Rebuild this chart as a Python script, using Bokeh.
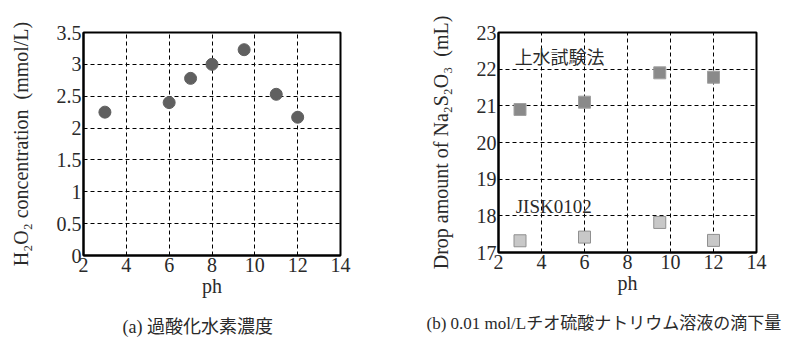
from bokeh.plotting import figure
from bokeh.layouts import row
from bokeh.models import Range1d, FixedTicker, Title, Label
from bokeh.embed import file_html
from bokeh.resources import INLINE

# Data
ph_a = [3, 6, 7, 8, 9.5, 11, 12]
h2o2 = [2.25, 2.4, 2.78, 3.0, 3.23, 2.53, 2.17]

ph_b = [3, 6, 9.5, 12]
josui = [20.9, 21.1, 21.9, 21.78]
jis = [17.32, 17.42, 17.82, 17.33]

x_ticks = [2, 4, 6, 8, 10, 12, 14]
y_ticks_a = [0, 0.5, 1, 1.5, 2, 2.5, 3, 3.5]
y_ticks_b = [17, 18, 19, 20, 21, 22, 23]

SERIF = "'Liberation Serif', 'DejaVu Serif', 'Noto Sans CJK JP'"
TXT = "#2a2a2a"


def style(p, yticks):
    p.xaxis.ticker = FixedTicker(ticks=x_ticks)
    p.yaxis.ticker = FixedTicker(ticks=yticks)
    for ax in (p.xaxis, p.yaxis):
        ax.major_label_text_font = SERIF
        ax.major_label_text_font_size = "20px"
        ax.major_label_text_color = TXT
        ax.axis_label_text_font = SERIF
        ax.axis_label_text_font_size = "20px"
        ax.axis_label_text_font_style = "normal"
        ax.axis_label_text_color = TXT
        ax.major_tick_in = 0
        ax.major_tick_out = 0
        ax.minor_tick_line_color = None
        ax.axis_line_color = "black"
        ax.axis_line_width = 2
        ax.major_label_standoff = 2
    p.xaxis.axis_label_standoff = 0
    p.yaxis.axis_label_standoff = 22
    p.xgrid.grid_line_color = "black"
    p.ygrid.grid_line_color = "black"
    p.xgrid.grid_line_dash = "4 3"
    p.ygrid.grid_line_dash = "4 3"
    p.xgrid.grid_line_width = 1
    p.ygrid.grid_line_width = 1
    p.outline_line_color = "black"
    p.outline_line_width = 2
    p.background_fill_color = "white"
    p.border_fill_color = "white"


# Plot (a)
pa = figure(width=395, height=338, frame_width=257, frame_height=223,
            x_range=Range1d(2, 14), y_range=Range1d(0, 3.5),
            output_backend="svg", toolbar_location=None,
            min_border_left=83, min_border_top=31, min_border_right=55,
            min_border_bottom=84)
style(pa, y_ticks_a)
pa.xaxis.axis_label = "ph"
pa.yaxis.axis_label = "H\u2082O\u2082 concentration\u2002(mmol/L)"
pa.scatter(ph_a, h2o2, marker="circle", size=12, fill_color="#606060",
           line_color="#606060")
cap_a = Title(text="(a)  過酸化水素濃度", align="left", offset=39, text_font=SERIF,
              text_font_size="18px", text_font_style="normal",
              text_color=TXT, standoff=30)
pa.add_layout(cap_a, "below")

# Plot (b)
pb = figure(width=403, height=338, frame_width=258, frame_height=220,
            x_range=Range1d(2, 14), y_range=Range1d(17, 23),
            output_backend="svg", toolbar_location=None,
            min_border_left=103, min_border_top=32, min_border_right=42,
            min_border_bottom=86)
style(pb, y_ticks_b)
pb.xaxis.axis_label = "ph"
pb.yaxis.axis_label = "Drop amount of Na\u2082S\u2082O\u2083\u2002(mL)"
pb.scatter(ph_b, josui, marker="square", size=12, fill_color="#8a8a8a",
           line_color="#a0a0a0", line_width=1)
pb.scatter(ph_b, jis, marker="square", size=12, fill_color="#c8c8c8",
           line_color="#909090", line_width=1)
pb.add_layout(Label(x=2.75, y=22.3, text="上水試験法", text_font=SERIF,
                    text_font_size="18px", text_baseline="middle",
                    text_color=TXT))
pb.add_layout(Label(x=2.8, y=18.25, text="JISK0102", text_font=SERIF,
                    text_font_size="19px", text_baseline="middle",
                    text_color=TXT))
cap_b = Title(text="(b)  0.01 mol/Lチオ硫酸ナトリウム溶液の滴下量", align="left",
              offset=-72, text_font=SERIF, text_font_size="17px",
              text_font_style="normal", text_color=TXT, standoff=31)
pb.add_layout(cap_b, "below")

layout = row(pa, pb)
open("out.html", "w").write(file_html(layout, INLINE))
